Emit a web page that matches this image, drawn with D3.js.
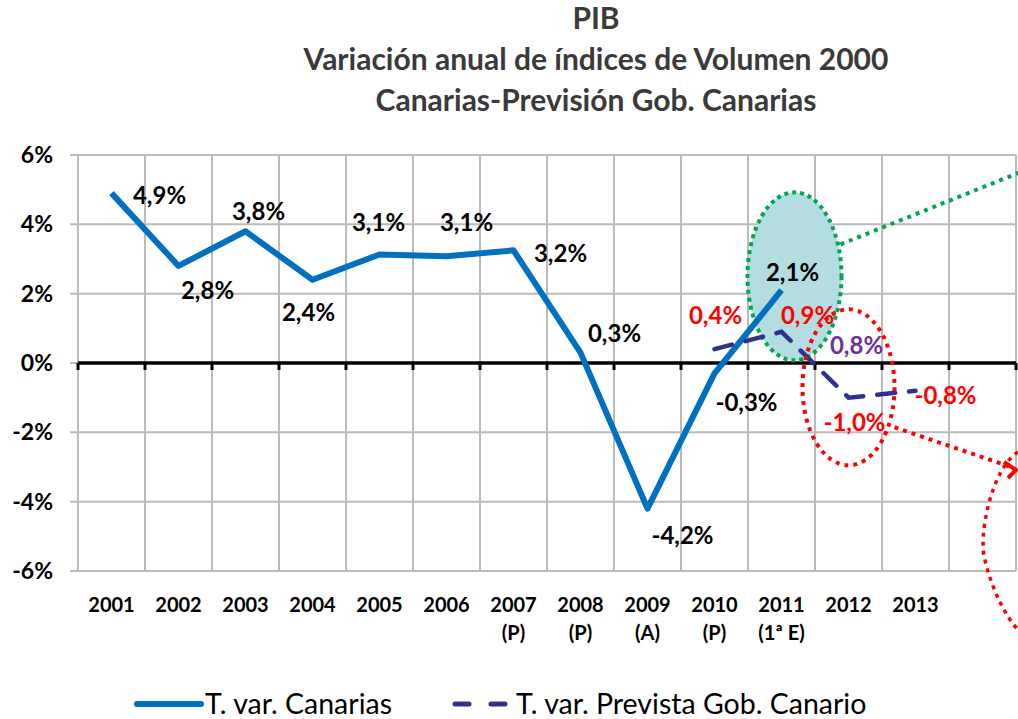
<!DOCTYPE html>
<html>
<head>
<meta charset="utf-8">
<script src="https://cdn.jsdelivr.net/npm/d3@7"></script>
<style>
  body { margin: 0; background: #fff; }
  svg { display: block; font-family: Lato, "Open Sans", sans-serif; }
</style>
</head>
<body>
<svg id="chart" width="1018" height="719"></svg>
<script>
// data
const years = ["2001", "2002", "2003", "2004", "2005", "2006", "2007", "2008", "2009", "2010", "2011", "2012", "2013", ""];
const yearNotes = ["", "", "", "", "", "", "(P)", "(P)", "(A)", "(P)", "(1ª E)", "", "", ""];
const canarias = [4.9, 2.8, 3.8, 2.4, 3.1, 3.1, 3.2, 0.3, -4.2, -0.3, 2.1];
const canariasShown = [4.9, 2.8, 3.8, 2.4, 3.13, 3.08, 3.25, 0.3, -4.2, -0.3, 2.1];
const prevYears = ["2010", "2011", "2012", "2013"];
const prevista = [0.4, 0.9, -1.0, -0.8];
const yTicks = [-6, -4, -2, 0, 2, 4, 6];

// layout
const plotLeft = 78, plotRight = 1016, plotTop = 155, plotBottom = 571;
const blue = "#0070C0", navy = "#2E3192", red = "#FF0000";
// label offsets (px) from each point to label centre
const canOff = [[48, 3], [29, 25], [13, -19], [-4, 33], [-1, -31], [20, -33], [47, 4], [34, -19], [35, 27], [32, 30], [11, -17]];
const prevOff = [[1, -33], [26, -16], [6, 25], [30, 5]];

const svg = d3.select("#chart");
const fmt = v => d3.format(".1f")(v).replace(".", ",").replace("−", "-") + "%";

const x = d3.scaleBand().domain(d3.range(years.length)).range([plotLeft, plotRight]).padding(0);
const cx = i => x(i) + x.bandwidth() / 2;
const y = d3.scaleLinear().domain([-6, 6]).range([plotBottom, plotTop]);

// title
const title = svg.append("g").attr("font-weight", "bold").attr("font-size", 30)
  .attr("fill", "#3A3A3A").attr("text-anchor", "middle");
["PIB", "Variación anual de índices de Volumen 2000", "Canarias-Previsión Gob. Canarias"].forEach((t, i) => {
  title.append("text").attr("x", 596).attr("y", 29 + i * 41).text(t);
});

// gridlines
const grid = svg.append("g").attr("stroke", "#BBBBBB").attr("stroke-width", 2);
grid.selectAll("line.h").data(yTicks).join("line").attr("class", "h")
  .attr("x1", plotLeft - 8).attr("x2", plotRight).attr("y1", d => y(d)).attr("y2", d => y(d));
grid.selectAll("line.v").data(d3.range(years.length + 1)).join("line").attr("class", "v")
  .attr("x1", i => plotLeft + i * x.bandwidth()).attr("x2", i => plotLeft + i * x.bandwidth())
  .attr("y1", plotTop).attr("y2", plotBottom);

// y axis labels
svg.append("g").attr("font-weight", "bold").attr("font-size", 23).attr("text-anchor", "end")
  .selectAll("text").data(yTicks).join("text")
  .attr("x", 53).attr("y", d => y(d) + 8).text(d => d + "%");

// zero axis
const zero = svg.append("g").attr("stroke", "#000");
zero.append("line").attr("x1", plotLeft).attr("x2", plotRight).attr("y1", y(0)).attr("y2", y(0)).attr("stroke-width", 3.5);
zero.selectAll("line.t").data(d3.range(years.length + 1)).join("line").attr("class", "t")
  .attr("x1", i => plotLeft + i * x.bandwidth()).attr("x2", i => plotLeft + i * x.bandwidth())
  .attr("y1", y(0)).attr("y2", y(0) + 7).attr("stroke-width", 3);

// x labels
const xl = svg.append("g").attr("font-weight", "bold").attr("font-size", 20).attr("text-anchor", "middle");
xl.selectAll("text.yr").data(years).join("text").attr("class", "yr").attr("x", (d, i) => cx(i)).attr("y", 612).text(d => d);
xl.selectAll("text.nt").data(yearNotes).join("text").attr("class", "nt").attr("x", (d, i) => cx(i)).attr("y", 640).text(d => d);

// green annotation
const gx = cx(10) + 13, gy = y(2.5);
svg.append("ellipse").attr("cx", gx).attr("cy", gy).attr("rx", 47).attr("ry", 84)
  .attr("fill", "#B3DDE0").attr("stroke", "#00A651").attr("stroke-width", 4).attr("stroke-dasharray", "4 4");
svg.append("line").attr("x1", gx + 46).attr("y1", gy - 32).attr("x2", 1020).attr("y2", y(5.5))
  .attr("stroke", "#00A651").attr("stroke-width", 4).attr("stroke-dasharray", "4 5");

// lines
const line = d3.line().x(d => d[0]).y(d => y(d[1]));
svg.append("path").datum(canariasShown.map((v, i) => [cx(i), v]))
  .attr("d", line).attr("fill", "none").attr("stroke", blue).attr("stroke-width", 6).attr("stroke-linejoin", "round");
svg.append("path").datum(prevista.map((v, i) => [cx(years.indexOf(prevYears[i])), v]))
  .attr("d", line).attr("fill", "none").attr("stroke", navy).attr("stroke-width", 4.5)
  .attr("stroke-dasharray", "18 14").attr("stroke-linecap", "round");

// red annotations
const rx0 = cx(11), ry0 = y(-0.7);
svg.append("ellipse").attr("cx", rx0).attr("cy", ry0).attr("rx", 46).attr("ry", 78)
  .attr("fill", "none").attr("stroke", red).attr("stroke-width", 4).attr("stroke-dasharray", "4 5");
svg.append("line").attr("x1", rx0 + 46).attr("y1", ry0 + 40).attr("x2", 1014).attr("y2", 468)
  .attr("stroke", red).attr("stroke-width", 4).attr("stroke-dasharray", "4 5");
svg.append("path").attr("d", "M1004,462 L1016,470 L1008,478")
  .attr("fill", "none").attr("stroke", red).attr("stroke-width", 4);
svg.append("path").attr("d", "M1018,452 C990,470 978,540 985,560 C992,590 1005,615 1018,630")
  .attr("fill", "none").attr("stroke", red).attr("stroke-width", 3.5).attr("stroke-dasharray", "4 5");

// data labels
const lab = svg.append("g").attr("font-weight", "bold").attr("font-size", 24).attr("text-anchor", "middle");
lab.selectAll("text.c").data(canarias).join("text").attr("class", "c")
  .attr("x", (d, i) => cx(i) + canOff[i][0]).attr("y", (d, i) => y(canariasShown[i]) + canOff[i][1] + 8)
  .attr("fill", "#000").text(d => fmt(d));
lab.selectAll("text.p").data(prevista).join("text").attr("class", "p")
  .attr("x", (d, i) => cx(years.indexOf(prevYears[i])) + prevOff[i][0])
  .attr("y", (d, i) => y(d) + prevOff[i][1] + 8)
  .attr("fill", red).text(d => fmt(d));
lab.append("text").attr("x", cx(11) + 8).attr("y", y(0.5) + 8).attr("fill", "#7030A0").text(fmt(0.8));

// legend
const lg = svg.append("g").attr("font-size", 28.5);
lg.append("line").attr("x1", 137).attr("x2", 201).attr("y1", 704).attr("y2", 704).attr("stroke", blue)
  .attr("stroke-width", 6).attr("stroke-linecap", "round");
lg.append("text").attr("x", 205).attr("y", 714).text("T. var. Canarias");
lg.append("line").attr("x1", 455).attr("x2", 508).attr("y1", 704).attr("y2", 704).attr("stroke", navy)
  .attr("stroke-width", 5).attr("stroke-dasharray", "14 22").attr("stroke-linecap", "round");
lg.append("text").attr("x", 516).attr("y", 714).text("T. var. Prevista Gob. Canario");
</script>
</body>
</html>
